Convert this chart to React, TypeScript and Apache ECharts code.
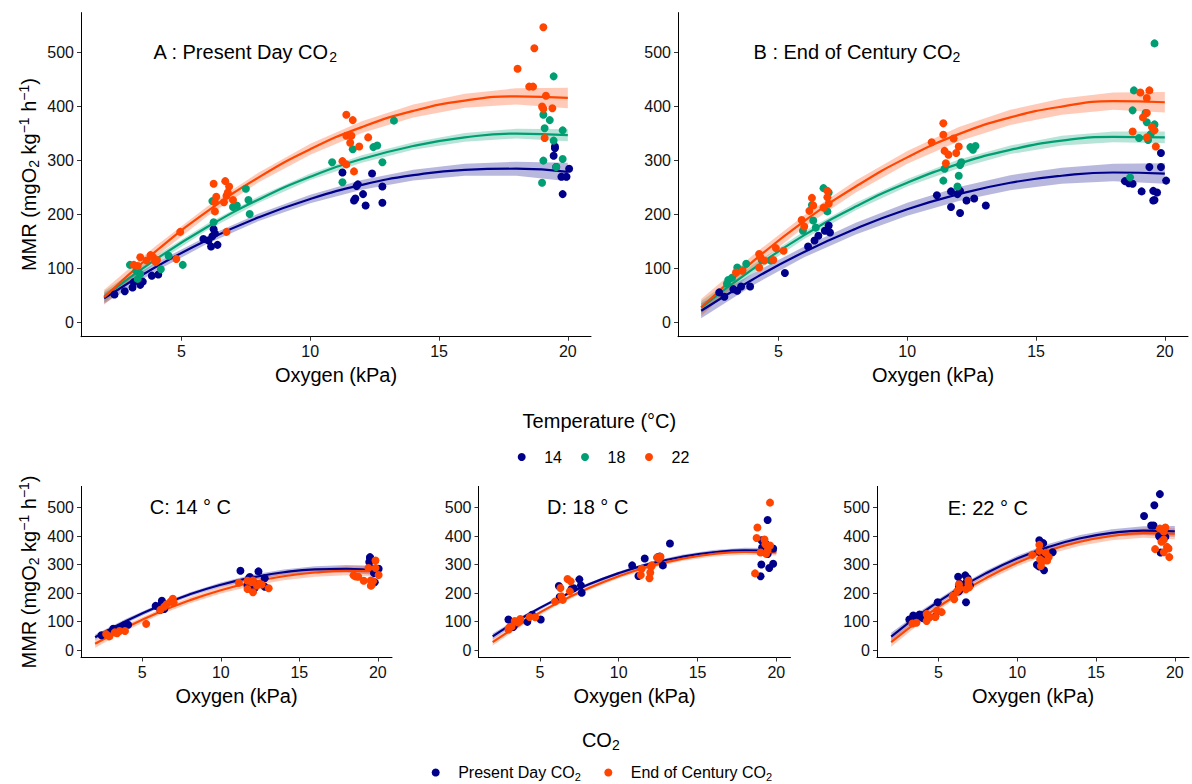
import React, { useEffect, useRef } from "react";
import * as echarts from "echarts";

const FONT = '"Liberation Sans", Arial, Helvetica, sans-serif';
const NAVY = "#00008B";
const GREEN = "#009E73";
const ORANGE = "#FF4500";

const X_TICKS = [5, 10, 15, 20];
const Y_TICKS = [0, 100, 200, 300, 400, 500];
const TEMP_NAMES = ["14", "18", "22"];
const CO2_NAMES = ["Present Day CO2", "End of Century CO2"];

// fitted curves at these oxygen levels
const CURVE_X = [2, 4, 6, 8, 10, 12, 14, 16, 18, 20];
const FIT_A14 = [45, 103, 153, 195, 229, 255, 273, 283, 285, 279];
const FIT_A18 = [48, 117, 177, 228, 270, 303, 327, 343, 350, 347];
const FIT_A22 = [47, 132, 206, 269, 321, 362, 392, 411, 419, 416];
const FIT_B14 = [22, 80, 131, 174, 210, 238, 259, 272, 278, 276];
const FIT_B18 = [28, 99, 162, 215, 259, 294, 320, 337, 344, 343];
const FIT_B22 = [28, 113, 188, 252, 306, 349, 380, 400, 410, 408];
// confidence band half-widths
const SE_A14 = [10, 8, 7, 7, 8, 9, 10, 11, 13, 17];
const SE_A18 = [10, 7, 6, 6, 6, 7, 7, 8, 9, 11];
const SE_A22 = [14, 10, 9, 9, 10, 11, 12, 13, 15, 19];
const SE_B14 = [14, 11, 10, 11, 12, 13, 14, 15, 16, 19];
const SE_B18 = [12, 8, 7, 7, 7, 8, 8, 9, 10, 11];
const SE_B22 = [16, 12, 11, 11, 12, 13, 14, 15, 16, 19];

// observations [oxygen kPa, MMR]
const A14: number[][] = [[2.4,52],[2.8,58],[3.1,65],[3.15,75],[3.4,70],[3.5,76],[3.85,87],[4.1,89],[5.85,155],[6.05,152],[6.25,173],[6.3,165],[6.15,141],[6.4,144],[6.2,160],[11.25,278],[11.85,256],[11.8,253],[12.05,238],[11.7,226],[11.75,230],[12.15,217],[12.4,276],[12.8,252],[12.8,222],[19.5,326],[19.5,323],[19.45,309],[19.55,288],[20.05,285],[19.75,270],[19.95,270],[19.8,238]];
const A18: number[][] = [[3.0,107],[3.25,96],[3.4,90],[3.3,81],[4.2,99],[4.5,124],[5.05,107],[6.25,186],[6.2,225],[7.15,217],[7.0,214],[7.5,248],[7.6,227],[7.65,201],[10.85,297],[11.25,260],[11.65,321],[12.45,325],[12.6,328],[12.8,297],[13.25,374],[19.45,456],[19.05,385],[19.3,375],[19.1,360],[19.8,356],[19.45,337],[19.05,300],[19.8,303],[19.55,288],[19.0,259]];
const A22: number[][] = [[3.15,107],[3.3,105],[3.4,121],[3.65,115],[3.8,125],[3.9,121],[4.05,116],[4.0,112],[4.8,118],[4.95,168],[6.75,168],[6.25,257],[6.7,262],[6.85,252],[6.35,233],[6.3,223],[6.3,206],[6.65,223],[6.75,235],[6.8,241],[7.0,227],[11.4,385],[11.65,375],[11.4,346],[11.6,346],[11.55,333],[11.9,326],[12.25,343],[11.25,299],[11.4,293],[11.7,280],[19.05,547],[18.7,508],[18.05,470],[18.5,437],[18.65,437],[19.15,420],[19.0,400],[19.05,396],[19.4,397],[19.1,342]];
const B14: number[][] = [[2.7,56],[2.9,48],[3.25,62],[3.4,59],[3.55,67],[3.9,67],[5.25,92],[6.15,141],[6.4,152],[6.55,161],[6.8,170],[6.95,180],[7.0,167],[11.15,236],[11.7,243],[12.05,244],[11.95,238],[11.7,214],[12.05,203],[12.3,226],[12.6,230],[13.05,217],[18.45,262],[18.6,258],[18.75,257],[19.1,243],[19.55,244],[19.7,241],[19.55,226],[19.6,227],[19.4,288],[19.85,288],[19.85,314],[20.05,263]];
const B18: number[][] = [[3.0,72],[3.05,79],[3.2,83],[3.4,102],[3.6,97],[3.75,109],[4.35,116],[4.7,115],[5.95,170],[6.35,189],[6.45,176],[6.3,218],[6.75,249],[6.9,206],[6.95,241],[11.4,263],[11.45,285],[12.05,292],[12.0,272],[11.95,252],[12.45,325],[12.65,327],[12.55,320],[12.1,297],[19.6,517],[18.8,430],[18.75,393],[19.25,388],[19.3,371],[19.6,367],[19.0,342],[19.35,338],[19.45,349],[18.65,269]];
const B22: number[][] = [[3.6,96],[3.35,93],[4.25,127],[4.3,121],[4.45,115],[4.25,102],[4.9,138],[4.8,116],[5.2,133],[5.9,190],[6.0,178],[6.3,231],[6.2,207],[6.35,217],[6.75,213],[6.9,244],[6.9,232],[6.95,220],[10.95,334],[11.4,348],[11.4,369],[11.8,341],[12.0,326],[11.45,318],[11.6,311],[11.9,314],[11.5,295],[19.05,426],[19.4,430],[19.3,416],[19.3,388],[19.15,380],[18.75,354],[19.5,362],[19.6,356],[19.3,343],[19.65,326]];

type Group = { name: string; color: string; pts: number[][]; fit: number[]; se: number[] };

const PANELS: Group[][] = [
  [
    { name: "14", color: NAVY, pts: A14, fit: FIT_A14, se: SE_A14 },
    { name: "18", color: GREEN, pts: A18, fit: FIT_A18, se: SE_A18 },
    { name: "22", color: ORANGE, pts: A22, fit: FIT_A22, se: SE_A22 },
  ],
  [
    { name: "14", color: NAVY, pts: B14, fit: FIT_B14, se: SE_B14 },
    { name: "18", color: GREEN, pts: B18, fit: FIT_B18, se: SE_B18 },
    { name: "22", color: ORANGE, pts: B22, fit: FIT_B22, se: SE_B22 },
  ],
  [
    { name: CO2_NAMES[0], color: NAVY, pts: A14, fit: FIT_A14, se: SE_A14 },
    { name: CO2_NAMES[1], color: ORANGE, pts: B14, fit: FIT_B14, se: SE_B14 },
  ],
  [
    { name: CO2_NAMES[0], color: NAVY, pts: A18, fit: FIT_A18, se: SE_A18 },
    { name: CO2_NAMES[1], color: ORANGE, pts: B18, fit: FIT_B18, se: SE_B18 },
  ],
  [
    { name: CO2_NAMES[0], color: NAVY, pts: A22, fit: FIT_A22, se: SE_A22 },
    { name: CO2_NAMES[1], color: ORANGE, pts: B22, fit: FIT_B22, se: SE_B22 },
  ],
];

const GRIDS = [
  { left: 81, top: 12.6, width: 510, height: 324.1 },
  { left: 678, top: 12.6, width: 510, height: 324.1 },
  { left: 81, top: 486.4, width: 311, height: 171.1 },
  { left: 478.5, top: 486.4, width: 312, height: 171.1 },
  { left: 877, top: 486.4, width: 312, height: 171.1 },
];

const SUBRICH = {
  n: { fontSize: 20, fontFamily: FONT, lineHeight: 24, fill: "#000" },
  s: { fontSize: 14, fontFamily: FONT, lineHeight: 12, verticalAlign: "bottom", fill: "#000" },
  p: { fontSize: 14, fontFamily: FONT, lineHeight: 12, verticalAlign: "top", fill: "#000" },
};

function buildOption() {
  const xAxis: any[] = [];
  const yAxis: any[] = [];
  const bands: any[] = [];
  const lines: any[] = [];
  const points: any[] = [];

  GRIDS.forEach((_, g) => {
    xAxis.push({
      gridIndex: g,
      type: "value",
      min: 1.1,
      max: 20.9,
      axisLine: { show: true, onZero: false, lineStyle: { color: "#000", width: 1 } },
      axisTick: { show: true, length: 4, customValues: X_TICKS, lineStyle: { color: "#333" } },
      axisLabel: { customValues: X_TICKS, fontSize: 16, fontFamily: FONT, color: "#111", margin: 7 },
      splitLine: { show: false },
      name: "Oxygen (kPa)",
      nameLocation: "middle",
      nameGap: 28,
      nameTextStyle: { fontSize: 20, fontFamily: FONT, color: "#000" },
    });
    yAxis.push({
      gridIndex: g,
      type: "value",
      min: -26,
      max: 574,
      axisLine: { show: true, onZero: false, lineStyle: { color: "#000", width: 1 } },
      axisTick: { show: true, length: 4, customValues: Y_TICKS, lineStyle: { color: "#333" } },
      axisLabel: { customValues: Y_TICKS, fontSize: 16, fontFamily: FONT, color: "#111", margin: 7 },
      splitLine: { show: false },
    });

    PANELS[g].forEach((grp, k) => {
      bands.push({
        type: "custom",
        name: "band-" + g + "-" + k,
        xAxisIndex: g,
        yAxisIndex: g,
        silent: true,
        z: 1,
        data: [[CURVE_X[0], grp.fit[0]]],
        renderItem: (_p: any, api: any) => {
          const up = CURVE_X.map((x, i) => api.coord([x, grp.fit[i] + grp.se[i]]));
          const lo = CURVE_X.map((x, i) => api.coord([x, grp.fit[i] - grp.se[i]])).reverse();
          return {
            type: "polygon",
            shape: { points: up.concat(lo) },
            style: { fill: grp.color, opacity: 0.28 },
            silent: true,
          };
        },
      });
      lines.push({
        type: "line",
        name: "fit-" + g + "-" + k,
        xAxisIndex: g,
        yAxisIndex: g,
        data: CURVE_X.map((x, i) => [x, grp.fit[i]]),
        showSymbol: false,
        symbol: "none",
        smooth: true,
        lineStyle: { color: grp.color, width: 2.2 },
        itemStyle: { color: grp.color },
        silent: true,
        z: 2,
      });
      points.push({
        type: "scatter",
        name: grp.name,
        xAxisIndex: g,
        yAxisIndex: g,
        data: grp.pts,
        symbol: "circle",
        symbolSize: 8,
        itemStyle: { color: grp.color, opacity: 1 },
        z: 3,
      });
    });
  });

  const legendBase = {
    orient: "horizontal",
    padding: 0,
    itemWidth: 10,
    itemHeight: 8,
    icon: "circle",
    selectedMode: false,
  };
  const tempLeft = [517.7, 581, 645];
  const legends: any[] = TEMP_NAMES.map((nm, i) => ({
    ...legendBase,
    data: [nm],
    left: tempLeft[i],
    top: 449,
    textStyle: { fontSize: 16, fontFamily: FONT, color: "#000", padding: [0, 0, 0, 12.5] },
  }));
  const co2Left = [431.7, 604.3];
  CO2_NAMES.forEach((nm, i) => {
    legends.push({
      ...legendBase,
      data: [nm],
      left: co2Left[i],
      top: 764.5,
      formatter: (name: string) =>
        "{n|" + name.replace(/2$/, "") + "}{s|2}",
      textStyle: {
        fontSize: 16,
        fontFamily: FONT,
        color: "#000",
        padding: [0, 0, 0, 12.5],
        rich: {
          n: { fontSize: 16, fontFamily: FONT, color: "#000", lineHeight: 20 },
          s: { fontSize: 11, fontFamily: FONT, color: "#000", lineHeight: 10, verticalAlign: "bottom" },
        },
      },
    });
  });

  const yTitle = "{n|MMR (mgO}{s|2}{n| kg}{p|\u22121}{n| h}{p|\u22121}{n|)}";
  const graphic: any[] = [
    { type: "text", x: 29, y: 174.6, rotation: Math.PI / 2, silent: true,
      style: { text: yTitle, rich: SUBRICH, align: "center", verticalAlign: "middle" } },
    { type: "text", x: 29, y: 572, rotation: Math.PI / 2, silent: true,
      style: { text: yTitle, rich: SUBRICH, align: "center", verticalAlign: "middle" } },
    { type: "text", x: 153.6, y: 52, silent: true,
      style: { text: "{n|A : Present Day CO}{s|2}", rich: SUBRICH, align: "left", verticalAlign: "middle" } },
    { type: "text", x: 753.5, y: 52, silent: true,
      style: { text: "{n|B : End of Century CO}{s|2}", rich: SUBRICH, align: "left", verticalAlign: "middle" } },
    { type: "text", x: 149.7, y: 507, silent: true,
      style: { text: "C: 14 \u00b0 C", fontSize: 20, fontFamily: FONT, fill: "#000", align: "left", verticalAlign: "middle" } },
    { type: "text", x: 547, y: 507, silent: true,
      style: { text: "D: 18 \u00b0 C", fontSize: 20, fontFamily: FONT, fill: "#000", align: "left", verticalAlign: "middle" } },
    { type: "text", x: 947.7, y: 508, silent: true,
      style: { text: "E: 22 \u00b0 C", fontSize: 20, fontFamily: FONT, fill: "#000", align: "left", verticalAlign: "middle" } },
    { type: "text", x: 599.4, y: 420.5, silent: true,
      style: { text: "Temperature (\u00b0C)", fontSize: 20, fontFamily: FONT, fill: "#000", align: "center", verticalAlign: "middle" } },
    { type: "text", x: 600.8, y: 740, silent: true,
      style: { text: "{n|CO}{s|2}", rich: SUBRICH, align: "center", verticalAlign: "middle" } },
  ];

  return {
    animation: false,
    backgroundColor: "#ffffff",
    textStyle: { fontFamily: FONT },
    grid: GRIDS.map((g) => ({ ...g, containLabel: false, outerBoundsMode: "none" })),
    xAxis,
    yAxis,
    legend: legends,
    graphic,
    series: [...bands, ...lines, ...points],
  };
}

export default function App() {
  const ref = useRef<HTMLDivElement>(null);
  useEffect(() => {
    if (!ref.current) return;
    const chart = echarts.init(ref.current, undefined, { renderer: "svg" });
    chart.setOption(buildOption() as any);
    return () => chart.dispose();
  }, []);
  return (
    <div
      ref={ref}
      style={{ position: "fixed", left: 0, top: 0, width: 1192, height: 784, background: "#fff" }}
    />
  );
}
